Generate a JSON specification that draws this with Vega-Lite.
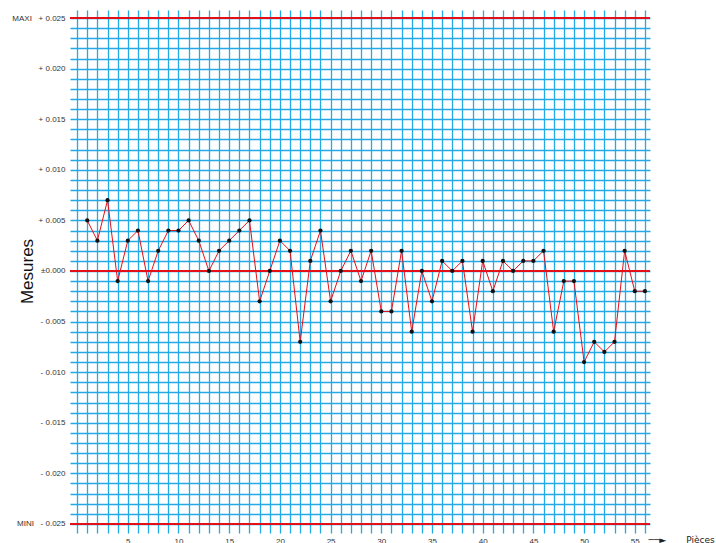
{
  "$schema": "https://vega.github.io/schema/vega-lite/v6.json",
  "width": 580,
  "height": 523,
  "autosize": {"type": "none"},
  "padding": {"left": 70, "top": 10, "right": 66, "bottom": 10},
  "background": "white",
  "config": {
    "view": {"stroke": null},
    "font": "Liberation Sans",
    "axis": {"labelFont": "Liberation Sans", "titleFont": "Liberation Sans"}
  },
  "data": {
    "values": [
      {"piece": 1, "mesure": 0.005}, {"piece": 2, "mesure": 0.003}, {"piece": 3, "mesure": 0.007},
      {"piece": 4, "mesure": -0.001}, {"piece": 5, "mesure": 0.003}, {"piece": 6, "mesure": 0.004},
      {"piece": 7, "mesure": -0.001}, {"piece": 8, "mesure": 0.002}, {"piece": 9, "mesure": 0.004},
      {"piece": 10, "mesure": 0.004}, {"piece": 11, "mesure": 0.005}, {"piece": 12, "mesure": 0.003},
      {"piece": 13, "mesure": 0.0}, {"piece": 14, "mesure": 0.002}, {"piece": 15, "mesure": 0.003},
      {"piece": 16, "mesure": 0.004}, {"piece": 17, "mesure": 0.005}, {"piece": 18, "mesure": -0.003},
      {"piece": 19, "mesure": 0.0}, {"piece": 20, "mesure": 0.003}, {"piece": 21, "mesure": 0.002},
      {"piece": 22, "mesure": -0.007}, {"piece": 23, "mesure": 0.001}, {"piece": 24, "mesure": 0.004},
      {"piece": 25, "mesure": -0.003}, {"piece": 26, "mesure": 0.0}, {"piece": 27, "mesure": 0.002},
      {"piece": 28, "mesure": -0.001}, {"piece": 29, "mesure": 0.002}, {"piece": 30, "mesure": -0.004},
      {"piece": 31, "mesure": -0.004}, {"piece": 32, "mesure": 0.002}, {"piece": 33, "mesure": -0.006},
      {"piece": 34, "mesure": 0.0}, {"piece": 35, "mesure": -0.003}, {"piece": 36, "mesure": 0.001},
      {"piece": 37, "mesure": 0.0}, {"piece": 38, "mesure": 0.001}, {"piece": 39, "mesure": -0.006},
      {"piece": 40, "mesure": 0.001}, {"piece": 41, "mesure": -0.002}, {"piece": 42, "mesure": 0.001},
      {"piece": 43, "mesure": 0.0}, {"piece": 44, "mesure": 0.001}, {"piece": 45, "mesure": 0.001},
      {"piece": 46, "mesure": 0.002}, {"piece": 47, "mesure": -0.006}, {"piece": 48, "mesure": -0.001},
      {"piece": 49, "mesure": -0.001}, {"piece": 50, "mesure": -0.009}, {"piece": 51, "mesure": -0.007},
      {"piece": 52, "mesure": -0.008}, {"piece": 53, "mesure": -0.007}, {"piece": 54, "mesure": 0.002},
      {"piece": 55, "mesure": -0.002}, {"piece": 56, "mesure": -0.002}
    ]
  },
  "encoding": {
    "x": {
      "field": "piece",
      "type": "quantitative",
      "scale": {"domain": [-0.7, 56.5], "nice": false, "zero": false},
      "axis": {
        "values": [0,1,2,3,4,5,6,7,8,9,10,11,12,13,14,15,16,17,18,19,20,21,22,23,24,25,26,27,28,29,30,31,32,33,34,35,36,37,38,39,40,41,42,43,44,45,46,47,48,49,50,51,52,53,54,55,56],
        "labelExpr": "datum.value % 5 == 0 && datum.value > 0 ? datum.label : ''",
        "grid": true,
        "gridColor": "#22a9e6",
        "gridWidth": 1.3,
        "gridOpacity": 1,
        "domain": false,
        "ticks": false,
        "labelFontSize": 8,
        "labelColor": "#333333",
        "labelPadding": 4,
        "labelBaseline": "top",
        "title": "──►\u00a0\u00a0\u00a0\u00a0\u00a0\u00a0\u00a0Pièces",
        "titleFont": "DejaVu Sans",
        "titleFontSize": 9,
        "titleFontWeight": "normal",
        "titleColor": "#222222",
        "titleX": 578,
        "titleY": 6,
        "titleAlign": "left",
        "titleAnchor": null,
        "titleBaseline": "middle",
        "labelFlush": false,
        "labelOverlap": false
      }
    },
    "y": {
      "field": "mesure",
      "type": "quantitative",
      "scale": {"domain": [-0.0259, 0.0258], "nice": false, "zero": false},
      "axis": {
        "values": [-0.025,-0.024,-0.023,-0.022,-0.021,-0.02,-0.019,-0.018,-0.017,-0.016,-0.015,-0.014,-0.013,-0.012,-0.011,-0.01,-0.009,-0.008,-0.007,-0.006,-0.005,-0.004,-0.003,-0.002,-0.001,0,0.001,0.002,0.003,0.004,0.005,0.006,0.007,0.008,0.009,0.01,0.011,0.012,0.013,0.014,0.015,0.016,0.017,0.018,0.019,0.02,0.021,0.022,0.023,0.024,0.025],
        "labelExpr": "round(datum.value*1000) % 5 != 0 ? '' : (datum.value > 0.0245 ? 'MAXI\u00a0\u00a0\u00a0+ 0.025' : (datum.value < -0.0245 ? 'MINI\u00a0\u00a0\u00a0- 0.025' : (datum.value > 0.0001 ? '+ ' + format(datum.value, '.3f') : (datum.value < -0.0001 ? '- ' + format(-datum.value, '.3f') : '±0.000'))))",
        "grid": true,
        "gridColor": "#22a9e6",
        "gridWidth": 1.3,
        "gridOpacity": 1,
        "domain": false,
        "ticks": false,
        "labelFontSize": 8,
        "labelColor": "#333333",
        "labelPadding": 5,
        "labelOverlap": false,
        "labelFlush": false,
        "title": "Mesures",
        "titleFontSize": 17,
        "titleFontWeight": "normal",
        "titleColor": "#111111",
        "titleAngle": -90,
        "titleX": -38,
        "titleY": 261,
        "titleAlign": "center",
        "titleAnchor": null,
        "titleBaseline": "alphabetic"
      }
    }
  },
  "layer": [
    {
      "data": {"values": [{"limite": 0.025}, {"limite": 0.0}, {"limite": -0.025}]},
      "mark": {"type": "rule", "color": "#e3101a", "strokeWidth": 2},
      "encoding": {"y": {"field": "limite", "type": "quantitative"}, "x": null}
    },
    {
      "mark": {"type": "line", "color": "#e3101a", "strokeWidth": 1}
    },
    {
      "mark": {"type": "circle", "color": "#111111", "size": 18, "opacity": 1}
    }
  ]
}
